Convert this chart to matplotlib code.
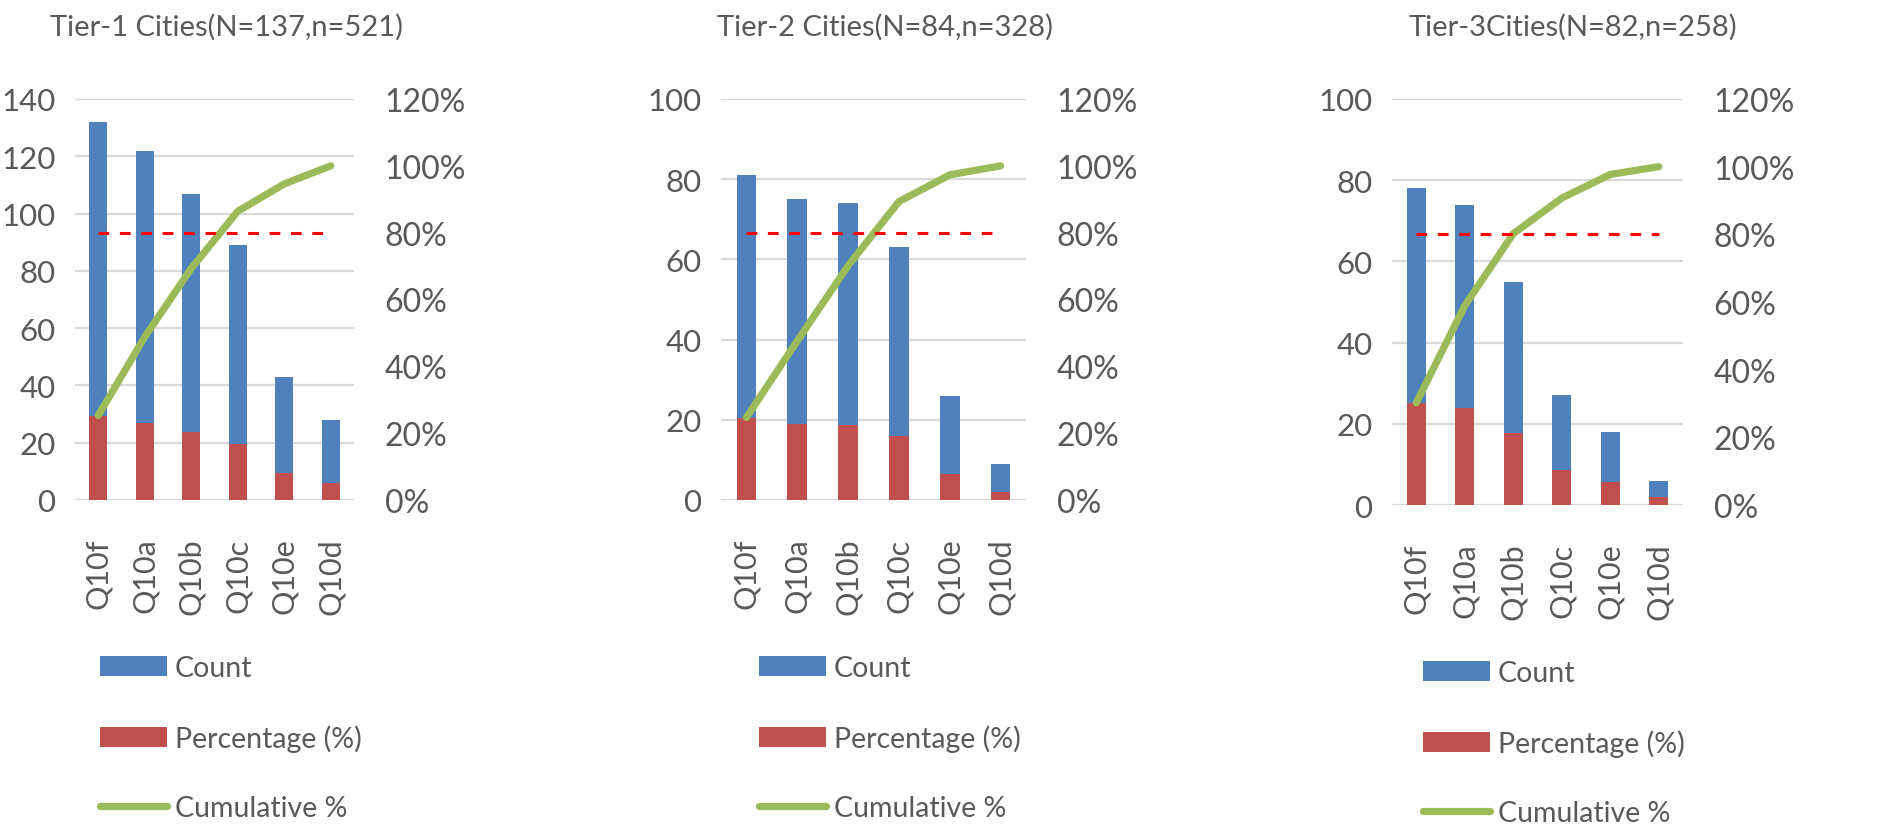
import matplotlib
matplotlib.use("Agg")
import matplotlib.pyplot as plt
from matplotlib.ticker import PercentFormatter, MultipleLocator

plt.rcParams['font.family'] = ['Lato', 'DejaVu Sans']

categories = ["Q10f", "Q10a", "Q10b", "Q10c", "Q10e", "Q10d"]

titles = ["Tier-1 Cities(N=137,n=521)", "Tier-2 Cities(N=84,n=328)", "Tier-3Cities(N=82,n=258)"]

count_tier1 = [132, 122, 107, 89, 43, 28]
count_tier2 = [81, 75, 74, 63, 26, 9]
count_tier3 = [78, 74, 55, 27, 18, 6]

percentage_tier1 = [29.3, 26.9, 23.7, 19.6, 9.4, 5.9]
percentage_tier2 = [20.4, 19.0, 18.6, 16.0, 6.4, 2.1]
percentage_tier3 = [25.1, 23.9, 17.7, 8.6, 5.7, 2.0]

cumulative_tier1 = [25.3, 48.8, 69.3, 86.4, 94.6, 100.0]
cumulative_tier2 = [24.7, 47.6, 70.1, 89.3, 97.3, 100.0]
cumulative_tier3 = [30.2, 58.9, 80.2, 90.7, 97.7, 100.0]

threshold = 80
left_max = [140, 100, 100]

BLUE = "#4F81BD"
RED = "#C0504D"
GREEN = "#9BBB59"
GRID = "#D9D9D9"
TEXT = "#595959"

W, H = 1892, 837

# axes boxes in pixels: left, right, top, bottom
boxes = [(75, 354, 100, 501), (721, 1026, 100, 501), (1392, 1683, 100, 506)]
title_x = [226, 885, 1573]
legend_x = [100, 759, 1423]
legend_top = [656, 656, 661]

fig = plt.figure(figsize=(W / 100, H / 100), dpi=100)

panels = [
    (count_tier1, percentage_tier1, cumulative_tier1),
    (count_tier2, percentage_tier2, cumulative_tier2),
    (count_tier3, percentage_tier3, cumulative_tier3),
]

for i, (counts, percents, cumulative) in enumerate(panels):
    l, r, t, b = boxes[i]
    ax = fig.add_axes([l / W, 1 - b / H, (r - l) / W, (b - t) / H])
    ax2 = ax.twinx()

    bars_count = ax.bar(categories, counts, width=0.39, color=BLUE, label="Count", zorder=2)
    bars_pct = ax.bar(categories, percents, width=0.39, color=RED, label="Percentage (%)", zorder=3)
    line_cum, = ax2.plot(categories, cumulative, color=GREEN, lw=5.2,
                         solid_capstyle="round", solid_joinstyle="round", label="Cumulative %", zorder=4)
    ax2.plot(categories, [threshold] * len(categories), color="#FF0000", lw=2.2,
             dashes=(3.5, 3.5), zorder=5)

    ax.set_xlim(-0.5, len(categories) - 0.5)
    ax.set_ylim(0, left_max[i])
    ax.yaxis.set_major_locator(MultipleLocator(20))
    ax2.set_ylim(0, 120)
    ax2.yaxis.set_major_locator(MultipleLocator(20))
    ax2.yaxis.set_major_formatter(PercentFormatter(100, decimals=0))

    ax.grid(axis="y", color=GRID, lw=1.6, zorder=0)
    ax.set_axisbelow(True)
    for a in (ax, ax2):
        for s in a.spines.values():
            s.set_visible(False)
        a.tick_params(length=0, labelsize=23, labelcolor=TEXT)
    ax.tick_params(axis="y", pad=14, labelsize=22.5)
    ax2.tick_params(axis="y", pad=22)
    ax.tick_params(axis="x", pad=27, labelrotation=90, labelsize=22)
    ax.set_zorder(ax2.get_zorder() - 1)
    ax.patch.set_visible(False)
    ax2.patch.set_visible(False)

    fig.text(title_x[i] / W, 1 - 27 / H, titles[i], ha="center", va="center",
             fontsize=21, color=TEXT)

    ax.legend([bars_count, bars_pct, line_cum], ["Count", "Percentage (%)", "Cumulative %"],
              loc="upper left", bbox_to_anchor=(legend_x[i] / W, 1 - legend_top[i] / H),
              bbox_transform=fig.transFigure, frameon=False, fontsize=20.5,
              labelcolor=TEXT, handlelength=2.35, handleheight=0.70,
              handletextpad=0.28, labelspacing=1.52, borderpad=0, borderaxespad=0)

fig.savefig("out.png", dpi=100)
